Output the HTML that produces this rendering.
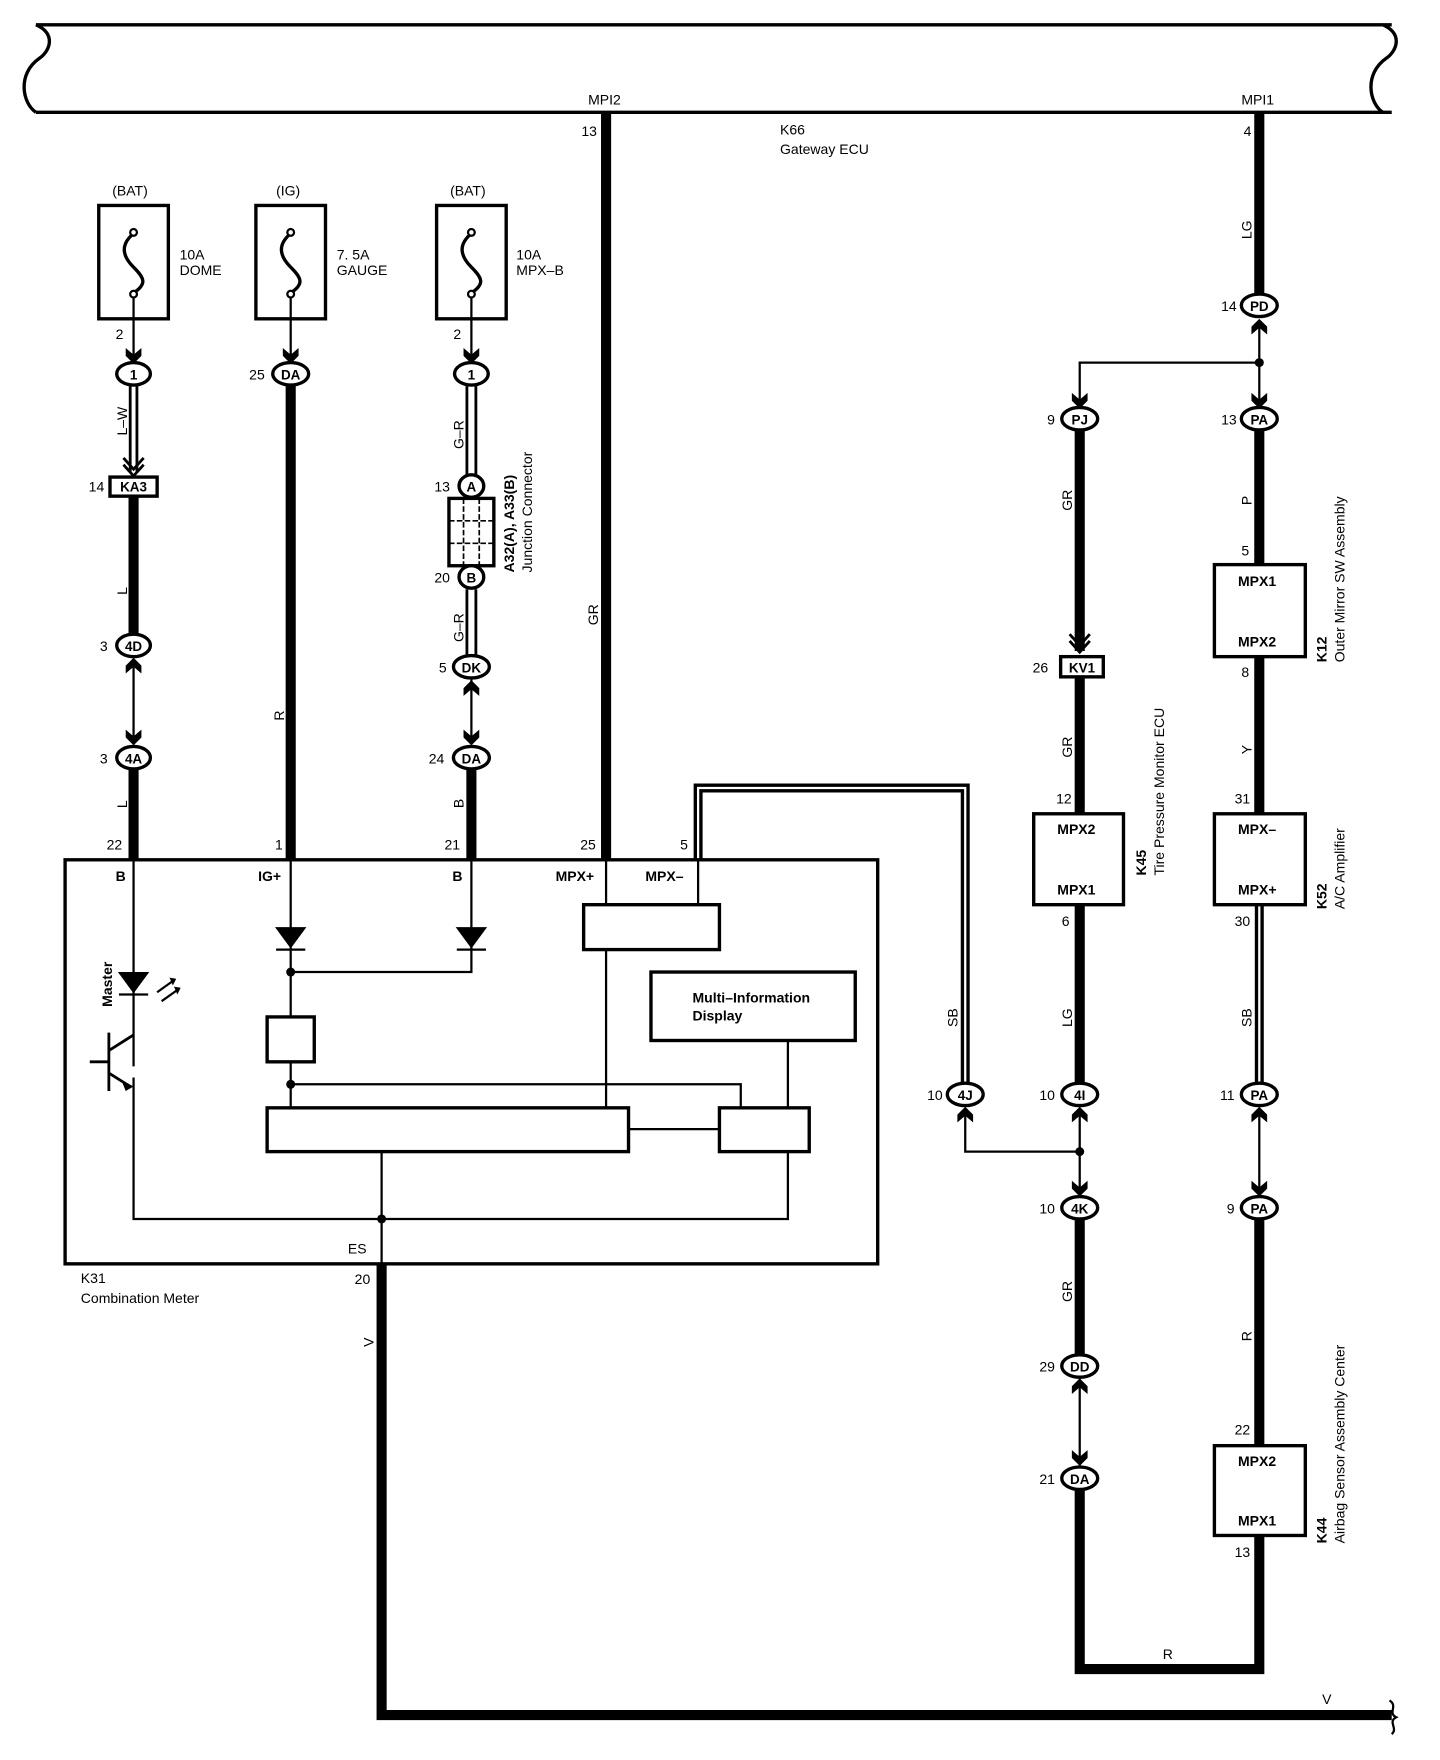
<!DOCTYPE html>
<html><head><meta charset="utf-8"><style>
html,body{margin:0;padding:0;background:#fff}
svg{display:block}
text{font-family:"Liberation Sans",sans-serif;fill:#000}
.s{font-size:12.5px}
.b{font-size:12.5px;font-weight:bold}
.c{font-size:12px;font-weight:bold;text-anchor:middle}
</style></head><body>
<svg width="1440" height="1760" viewBox="0 0 1283 1568" xmlns="http://www.w3.org/2000/svg">
<defs>
<polygon id="dn" points="-7,-8 0,-2 7,-8 7,-1 0,6 -7,-1"/>
<polygon id="up" points="-7,8 0,2 7,8 7,1 0,-6 -7,1"/>
<g id="fuse"><path d="M0,-25 C-12,-15 -10,-5 0,5 C10,15 12,20 0,28" fill="none" stroke="#000" stroke-width="3"/><circle cx="0" cy="-26" r="3" fill="#fff" stroke="#000" stroke-width="2"/><circle cx="0" cy="29" r="3" fill="#fff" stroke="#000" stroke-width="2"/></g>
</defs>
<g fill="none" stroke="#000">
<!-- top bus -->
<path d="M32,22 H1240 M32,100 H1240" stroke-width="3"/>
<path d="M32,22 C50,30 45,45 35,52 C15,66 20,92 32,100" stroke-width="3"/>
<path d="M1232,22 C1250,30 1245,45 1235,52 C1215,66 1220,92 1232,100" stroke-width="3"/>
<!-- MPI2 -->
<path d="M540,100 V766" stroke-width="9"/>
<!-- MPI1 -->
<path d="M1122,100 V262" stroke-width="9"/>
<!-- fuse boxes -->
<rect x="88" y="183" width="62" height="101" stroke-width="3"/>
<rect x="228" y="183" width="62" height="101" stroke-width="3"/>
<rect x="389" y="183" width="62" height="101" stroke-width="3"/>
<path d="M119,264 V318 M259,264 V318 M420,264 V318" stroke-width="2"/>
<!-- col1 -->
<path d="M116,344 V420 M122,344 V420" stroke-width="2.5"/>
<path d="M119,442 V565" stroke-width="9"/>
<path d="M119,590 V660" stroke-width="2"/>
<path d="M119,686 V766" stroke-width="9"/>
<!-- col2 -->
<path d="M259,344 V766" stroke-width="9"/>
<!-- col3 -->
<path d="M416,344 V423 M424,344 V423 M416,525 V584 M424,525 V584" stroke-width="2.5"/>
<path d="M420,605 V660" stroke-width="2"/>
<path d="M420,686 V766" stroke-width="9"/>
<rect x="400" y="444" width="40" height="60" stroke-width="3"/>
<path d="M400,464 H440 M400,484 H440 M413,444 V504 M427,444 V504" stroke-width="1.5" stroke-dasharray="5,2"/>
<!-- MPX- loop -->
<path d="M622,766 V702 H860 V966" stroke-width="8"/>
<path d="M622,766 V702 H860 V966" stroke="#fff" stroke-width="2"/>
<!-- K31 box -->
<rect x="58" y="766" width="724" height="360" stroke-width="3"/>
<path d="M119,766 V950 M119,960 V1086 H702 V1026 M259,766 V906 M259,946 V987 M420,766 V866 H259 M259,966 H660 V987 M540,766 V806 M622,766 V806 M540,846 V987 M702,927 V987 M560,1006 H641 M340,1026 V1126" stroke-width="2"/>
<rect x="520" y="806" width="121" height="40" stroke-width="3"/>
<rect x="580" y="866" width="182" height="61" stroke-width="3"/>
<rect x="238" y="906" width="42" height="40" stroke-width="3"/>
<rect x="238" y="987" width="322" height="39" stroke-width="3"/>
<rect x="641" y="987" width="80" height="39" stroke-width="3"/>
<!-- transistor -->
<path d="M97,920 V972 M80,946 H97 M97,936 L119,922 M97,956 L116,968" stroke-width="2.5"/>
<!-- V line -->
<path d="M340,1126 V1528 H1240" stroke-width="9"/>
<path d="M1238,1515 C1246,1520 1236,1526 1244,1530 C1236,1534 1246,1540 1240,1545" stroke-width="2"/>
<!-- right: split -->
<path d="M1122,285 V363 M1122,323 H962 V363" stroke-width="2"/>
<path d="M962,384 V580" stroke-width="9"/>
<path d="M962,603 V725 M962,806 V965" stroke-width="9"/>
<rect x="945" y="585" width="38" height="18" stroke-width="3"/>
<rect x="921" y="725" width="80" height="81" stroke-width="3"/>
<path d="M962,988 V1066 M962,1026 H860 V988" stroke-width="2"/>
<path d="M962,1087 V1207 M962,1328 V1487 H1122 V1368" stroke-width="9"/>
<path d="M962,1228 V1307" stroke-width="2"/>
<path d="M1122,384 V503 M1122,585 V725 M1122,1087 V1288" stroke-width="9"/>
<path d="M1122,806 V965" stroke-width="8"/>
<path d="M1122,806 V965" stroke="#fff" stroke-width="2"/>
<path d="M1122,988 V1066" stroke-width="2"/>
<rect x="1082" y="503" width="81" height="82" stroke-width="3"/>
<rect x="1082" y="725" width="81" height="81" stroke-width="3"/>
<rect x="1082" y="1288" width="81" height="80" stroke-width="3"/>
<rect x="98" y="425" width="42" height="17" stroke-width="3"/>
</g>
<!-- chevrons for double line arrows -->
<path d="M110,408 L119,418 L128,408 M110,414 L119,424 L128,414" fill="none" stroke="#000" stroke-width="2.5"/>
<path d="M953,565 L962,575 L971,565 M953,571 L962,581 L971,571" fill="none" stroke="#000" stroke-width="2.5"/>
<!-- fuses -->
<use href="#fuse" x="119" y="233"/><use href="#fuse" x="259" y="233"/><use href="#fuse" x="420" y="233"/>
<!-- arrows -->
<use href="#dn" x="119" y="318"/><use href="#dn" x="259" y="318"/><use href="#dn" x="420" y="318"/>
<use href="#up" x="119" y="592"/><use href="#dn" x="119" y="658"/>
<use href="#up" x="420" y="612"/><use href="#dn" x="420" y="658"/>
<use href="#up" x="1122" y="290"/><use href="#dn" x="962" y="358"/><use href="#dn" x="1122" y="358"/>
<use href="#up" x="860" y="992"/><use href="#up" x="962" y="992"/><use href="#up" x="1122" y="992"/>
<use href="#dn" x="962" y="1060"/><use href="#dn" x="1122" y="1060"/>
<use href="#up" x="962" y="1234"/><use href="#dn" x="962" y="1300"/>
<!-- diodes -->
<polygon points="245,826 273,826 259,845" fill="#000"/><path d="M246,846 H272 M407,846 H433" stroke="#000" stroke-width="2"/>
<polygon points="406,826 434,826 420,845" fill="#000"/>
<polygon points="105,866 133,866 119,885" fill="#000"/><path d="M106,886 H132" stroke="#000" stroke-width="2"/>
<path d="M140,884 L154,874 M144,892 L158,882" stroke="#000" stroke-width="2"/>
<polygon points="151,871 157,872 154,878" fill="#000"/><polygon points="155,879 161,880 158,886" fill="#000"/>
<polygon points="108,962 119,968 112,972" fill="#000"/>
<g fill="#000"><circle cx="259" cy="866" r="4"/><circle cx="259" cy="966" r="4"/><circle cx="340" cy="1086" r="4"/><circle cx="1122" cy="323" r="4"/><circle cx="962" cy="1026" r="4"/></g>
<!-- connector ovals -->
<g fill="#fff" stroke="#000" stroke-width="3">
<ellipse cx="119" cy="333" rx="15" ry="10"/><ellipse cx="259" cy="333" rx="16" ry="10"/><ellipse cx="420" cy="333" rx="15" ry="10"/>
<ellipse cx="119" cy="575" rx="15" ry="10"/><ellipse cx="119" cy="675" rx="15" ry="10"/>
<ellipse cx="420" cy="433" rx="11" ry="10"/><ellipse cx="420" cy="514" rx="11" ry="10"/>
<ellipse cx="420" cy="594" rx="16" ry="10"/><ellipse cx="420" cy="675" rx="16" ry="10"/>
<ellipse cx="1122" cy="272" rx="16" ry="10"/><ellipse cx="962" cy="373" rx="16" ry="10"/><ellipse cx="1122" cy="373" rx="16" ry="10"/>
<ellipse cx="860" cy="975" rx="16" ry="10"/><ellipse cx="962" cy="975" rx="16" ry="10"/><ellipse cx="1122" cy="975" rx="16" ry="10"/>
<ellipse cx="962" cy="1076" rx="16" ry="10"/><ellipse cx="1122" cy="1076" rx="16" ry="10"/>
<ellipse cx="962" cy="1217" rx="16" ry="10"/><ellipse cx="962" cy="1317" rx="16" ry="10"/>
</g>
<g class="c">
<text x="119" y="338">1</text><text x="259" y="338">DA</text><text x="420" y="338">1</text>
<text x="119" y="580">4D</text><text x="119" y="680">4A</text>
<text x="420" y="438">A</text><text x="420" y="519">B</text>
<text x="420" y="599">DK</text><text x="420" y="680">DA</text>
<text x="1122" y="277">PD</text><text x="962" y="378">PJ</text><text x="1122" y="378">PA</text>
<text x="860" y="980">4J</text><text x="962" y="980">4I</text><text x="1122" y="980">PA</text>
<text x="962" y="1081">4K</text><text x="1122" y="1081">PA</text>
<text x="962" y="1222">DD</text><text x="962" y="1322">DA</text>
<text x="119" y="438">KA3</text><text x="964" y="599">KV1</text>
</g>
<!-- labels -->
<g class="s">
<text x="524" y="93">MPI2</text><text x="1106" y="93">MPI1</text>
<text x="518" y="121">13</text><text x="1108" y="121">4</text>
<text x="695" y="120">K66</text><text x="695" y="137">Gateway ECU</text>
<text x="100" y="174">(BAT)</text><text x="246" y="174">(IG)</text><text x="401" y="174">(BAT)</text>
<text x="160" y="231">10A</text><text x="160" y="245">DOME</text>
<text x="300" y="231">7. 5A</text><text x="300" y="245">GAUGE</text>
<text x="460" y="231">10A</text><text x="460" y="245">MPX–B</text>
<text x="103" y="302">2</text><text x="404" y="302">2</text>
<text x="222" y="338">25</text><text x="79" y="438">14</text>
<text x="89" y="580">3</text><text x="89" y="680">3</text>
<text x="387" y="438">13</text><text x="387" y="519">20</text><text x="391" y="599">5</text><text x="382" y="680">24</text>
<text x="95" y="757">22</text><text x="245" y="757">1</text><text x="396" y="757">21</text><text x="517" y="757">25</text><text x="606" y="757">5</text>
<text x="1088" y="277">14</text><text x="933" y="378">9</text><text x="1088" y="378">13</text>
<text x="1106" y="495">5</text><text x="1106" y="603">8</text><text x="920" y="599">26</text>
<text x="941" y="716">12</text><text x="1100" y="716">31</text><text x="946" y="825">6</text><text x="1100" y="825">30</text>
<text x="826" y="980">10</text><text x="926" y="980">10</text><text x="1087" y="980">11</text>
<text x="926" y="1081">10</text><text x="1093" y="1081">9</text>
<text x="926" y="1222">29</text><text x="926" y="1322">21</text>
<text x="1100" y="1278">22</text><text x="1100" y="1387">13</text>
<text x="1036" y="1478">R</text><text x="1178" y="1518">V</text>
<text x="316" y="1144">20</text><text x="72" y="1143">K31</text><text x="72" y="1161">Combination Meter</text>
<text x="310" y="1117">ES</text>
</g>
<g class="b">
<text x="103" y="785">B</text><text x="230" y="785">IG+</text><text x="403" y="785">B</text><text x="495" y="785">MPX+</text><text x="575" y="785">MPX–</text>
<text x="942" y="743">MPX2</text><text x="942" y="797">MPX1</text>
<text x="1103" y="522">MPX1</text><text x="1103" y="576">MPX2</text>
<text x="1103" y="743">MPX–</text><text x="1103" y="797">MPX+</text>
<text x="1103" y="1306">MPX2</text><text x="1103" y="1359">MPX1</text>
<text x="617" y="893">Multi–Information</text><text x="617" y="909">Display</text>
</g>
<!-- rotated labels -->
<g class="s">
<text transform="translate(113,388) rotate(-90)">L–W</text>
<text transform="translate(113,530) rotate(-90)">L</text>
<text transform="translate(113,720) rotate(-90)">L</text>
<text transform="translate(253,642) rotate(-90)">R</text>
<text transform="translate(413,400) rotate(-90)">G–R</text>
<text transform="translate(413,572) rotate(-90)">G–R</text>
<text transform="translate(413,720) rotate(-90)">B</text>
<text transform="translate(533,557) rotate(-90)">GR</text>
<text transform="translate(853,915) rotate(-90)">SB</text>
<text transform="translate(1115,213) rotate(-90)">LG</text>
<text transform="translate(955,455) rotate(-90)">GR</text>
<text transform="translate(955,675) rotate(-90)">GR</text>
<text transform="translate(955,915) rotate(-90)">LG</text>
<text transform="translate(955,1160) rotate(-90)">GR</text>
<text transform="translate(1115,450) rotate(-90)">P</text>
<text transform="translate(1115,672) rotate(-90)">Y</text>
<text transform="translate(1115,915) rotate(-90)">SB</text>
<text transform="translate(1115,1195) rotate(-90)">R</text>
<text transform="translate(333,1200) rotate(-90)">V</text>
<text transform="translate(474,510) rotate(-90)">Junction Connector</text>
<text transform="translate(1198,590) rotate(-90)">Outer Mirror SW Assembly</text>
<text transform="translate(1037,780) rotate(-90)">Tire Pressure Monitor ECU</text>
<text transform="translate(1198,810) rotate(-90)">A/C Amplifier</text>
<text transform="translate(1198,1375) rotate(-90)">Airbag Sensor Assembly Center</text>
</g>
<g class="b">
<text transform="translate(458,510) rotate(-90)">A32(A), A33(B)</text>
<text transform="translate(100,897) rotate(-90)">Master</text>
<text transform="translate(1182,590) rotate(-90)">K12</text>
<text transform="translate(1021,780) rotate(-90)">K45</text>
<text transform="translate(1182,810) rotate(-90)">K52</text>
<text transform="translate(1182,1375) rotate(-90)">K44</text>
</g>
</svg>
</body></html>
